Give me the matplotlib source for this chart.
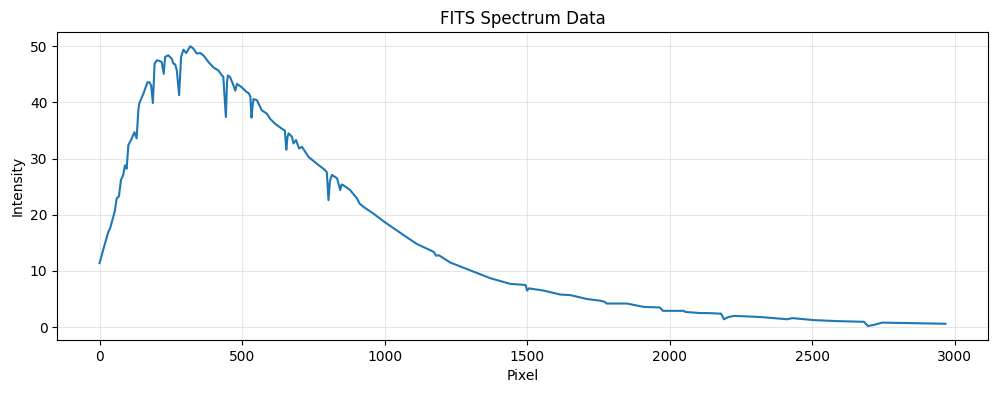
import matplotlib
matplotlib.use("Agg")
import matplotlib.pyplot as plt

pixel = [0, 19, 31, 37, 48, 54, 60, 68, 75, 83, 89, 95, 101, 113, 122, 130, 136, 139, 154, 168,
         175, 181, 187, 193, 201, 210, 218, 225, 230, 241, 253, 259, 265, 271, 279, 286, 294,
         304, 318, 329, 341, 353, 364, 382, 400, 417, 429, 434, 443, 447, 450, 458, 470, 476,
         482, 499, 515, 524, 529, 533, 537, 540, 552, 569, 587, 598, 616, 640, 650, 655, 659,
         663, 675, 680, 689, 700, 710, 733, 762, 790, 797, 803, 808, 815, 833, 844, 849, 854,
         879, 903, 912, 926, 961, 1000, 1066, 1113, 1172, 1181, 1190, 1230, 1300, 1371, 1441,
         1494, 1500, 1506, 1558, 1616, 1651, 1710, 1757, 1772, 1778, 1850, 1909, 1965, 1976,
         2049, 2055, 2108, 2131, 2180, 2190, 2206, 2225, 2318, 2412, 2430, 2505, 2587, 2681,
         2695, 2716, 2745, 2856, 2967]
intensity = [11.4, 14.9, 17.0, 17.6, 19.6, 20.8, 22.9, 23.3, 26.2, 27.1, 28.8, 28.2, 32.4, 33.6,
             34.7, 33.6, 38.6, 39.8, 41.6, 43.6, 43.6, 43.0, 39.9, 46.9, 47.5, 47.4, 47.2, 45.1,
             48.1, 48.4, 47.8, 46.9, 46.8, 45.7, 41.3, 48.1, 49.4, 48.8, 50.0, 49.6, 48.7, 48.8,
             48.4, 47.2, 46.2, 45.7, 44.8, 44.6, 37.4, 43.5, 44.8, 44.5, 43.0, 42.1, 43.3, 42.7,
             41.9, 41.6, 41.0, 37.3, 39.5, 40.6, 40.4, 38.6, 38.0, 37.1, 36.2, 35.3, 35.0, 31.6,
             33.8, 34.5, 33.9, 32.7, 33.3, 31.8, 32.1, 30.3, 29.1, 28.0, 27.6, 22.6, 26.0, 27.1,
             26.5, 24.4, 25.4, 25.3, 24.4, 22.9, 22.0, 21.4, 20.2, 18.7, 16.4, 14.8, 13.4, 12.7,
             12.8, 11.5, 10.1, 8.7, 7.7, 7.5, 6.5, 6.9, 6.5, 5.8, 5.7, 5.0, 4.7, 4.5, 4.2, 4.2,
             3.6, 3.5, 2.9, 2.9, 2.7, 2.5, 2.5, 2.4, 1.4, 1.8, 2.0, 1.8, 1.4, 1.6, 1.25, 1.07,
             0.95, 0.2, 0.4, 0.8, 0.7, 0.6]

fig = plt.figure(figsize=(9.96, 3.93), dpi=100)
ax = fig.add_axes([0.0575, 0.1349, 0.9342, 0.7829])
ax.plot(pixel, intensity, color="#1f77b4", linewidth=1.5)
ax.set_title("FITS Spectrum Data")
ax.set_xlabel("Pixel")
ax.set_ylabel("Intensity")
ax.grid(True, alpha=0.3)
fig.savefig("out.png", dpi=100)
